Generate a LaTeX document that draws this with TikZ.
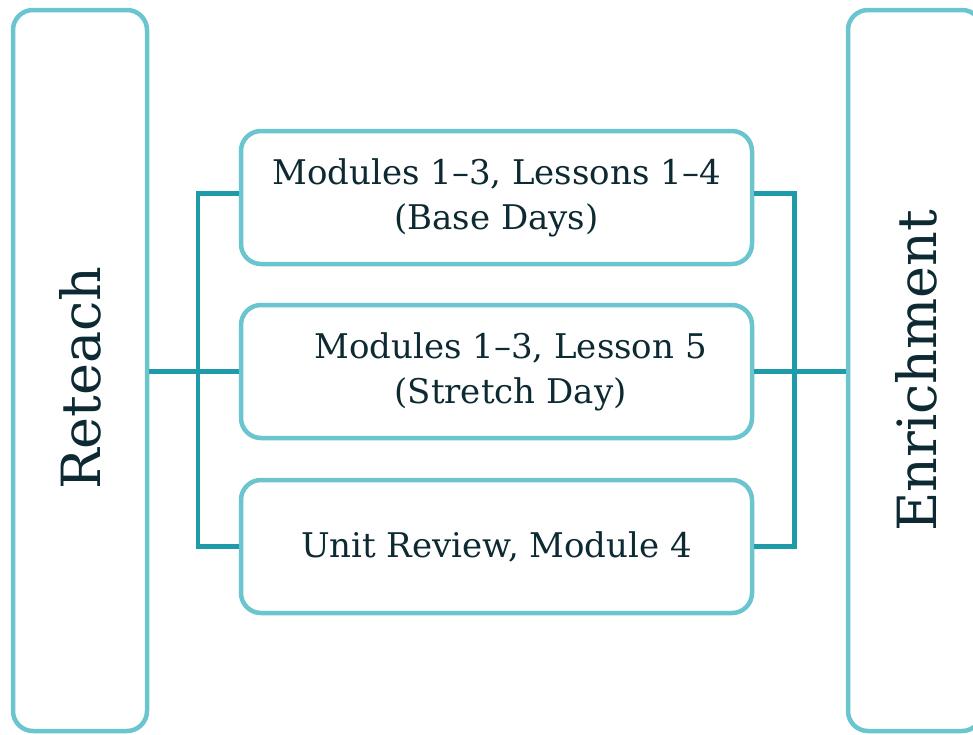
\documentclass[tikz,border=0pt]{standalone}
\usepackage{fontspec}
\setmainfont{DejaVu Serif}
\definecolor{boxc}{HTML}{6AC5CF}
\definecolor{linkc}{HTML}{1F9AA8}
\definecolor{txtc}{HTML}{0D2A33}
\begin{document}
\begin{tikzpicture}[x=1pt,y=-1pt,
  sidebox/.style={draw=boxc, line width=4.5pt, rounded corners=20pt, minimum width=134pt, minimum height=721pt, inner sep=0pt},
  midbox/.style={draw=boxc, line width=4.5pt, rounded corners=20pt, minimum width=511pt, minimum height=133pt, inner sep=0pt, align=center, text=txtc, font=\fontsize{34}{45}\selectfont},
  sidetext/.style={text=txtc, font=\fontsize{54}{56}\selectfont, rotate=90},
  link/.style={draw=linkc, line width=4.5pt}]
\useasboundingbox (0,0) rectangle (973,734);
\clip (0,0) rectangle (973,734);
\node[sidebox] (L) at (80,370.5) {};
\node[sidebox] (R) at (915,370.5) {};
\node[sidetext] (Lt) at (80,378) {Reteach};
\node[sidetext] (Rt) at (916,371) {Enrichment};
\node[midbox] (B1) at (496.5,197.5) {Modules 1–3, Lessons 1–4\\(Base Days)};
\node[midbox] (B2) at (496.5,371.5) {\hspace*{28pt}Modules 1–3, Lesson 5\\\hspace*{28pt}(Stretch Day)};
\node[midbox] (B3) at (496.5,546.5) {Unit Review, Module 4};
\coordinate (B1w) at ([yshift=4pt]B1.west);
\coordinate (B1e) at ([yshift=4pt]B1.east);
\coordinate (lx) at ([xshift=-41pt]B1.west);
\coordinate (rx) at ([xshift=40pt]B1.east);
\draw[link] (B1w) -- (B1w -| lx) |- (B3.west);
\draw[link] (B1e) -- (B1e -| rx) |- (B3.east);
\draw[link] (L.east |- B2.west) -- (B2.west);
\draw[link] (B2.east) -- (R.west |- B2.east);
\end{tikzpicture}
\end{document}
